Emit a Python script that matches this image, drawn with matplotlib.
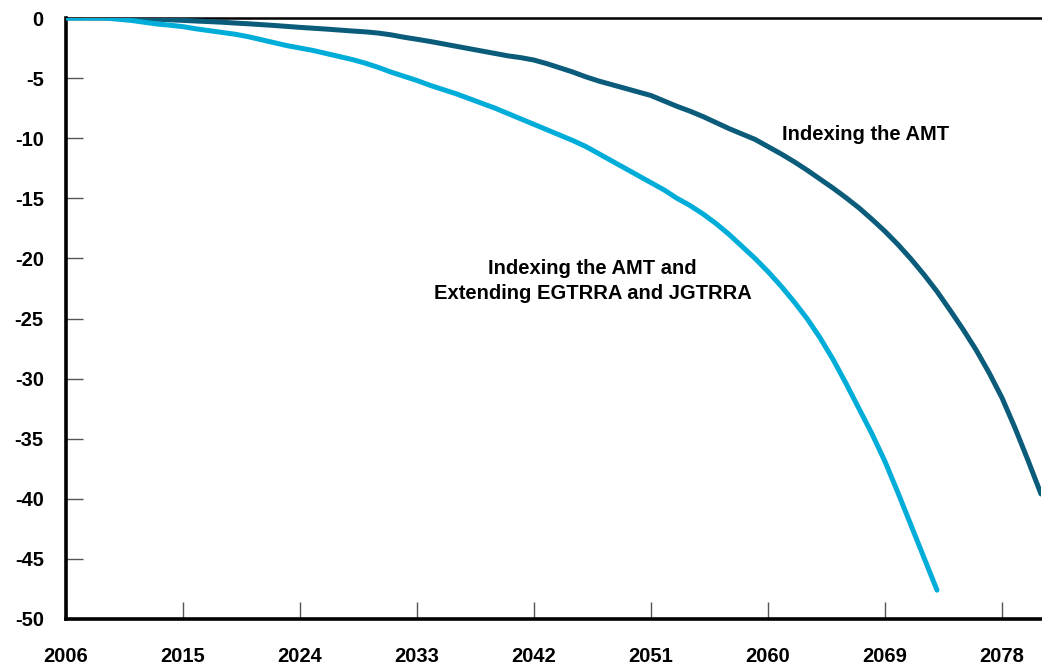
import numpy as np
import matplotlib.pyplot as plt

plt.rcParams['font.family'] = ['Liberation Sans', 'DejaVu Sans']

years = np.arange(2006, 2082)

# Indexing the AMT
amt_index = [
    0, 0, 0, 0, 0, -0.02, -0.05, -0.1, -0.15, -0.2,
    -0.25, -0.3, -0.35, -0.42, -0.48, -0.55, -0.62, -0.7, -0.78, -0.85,
    -0.92, -1.0, -1.08, -1.15, -1.25, -1.4, -1.6, -1.77, -1.95, -2.15,
    -2.35, -2.55, -2.75, -2.95, -3.15, -3.3, -3.5, -3.8, -4.15, -4.5,
    -4.9, -5.25, -5.55, -5.85, -6.15, -6.45, -6.9, -7.35, -7.75, -8.2,
    -8.7, -9.2, -9.65, -10.1, -10.7, -11.3, -11.95, -12.65, -13.4, -14.15,
    -14.95, -15.8, -16.75, -17.75, -18.85, -20.05, -21.35, -22.75, -24.3, -25.9,
    -27.6, -29.5, -31.6, -34.1, -36.8, -39.6,
]

# Indexing the AMT and extending EGTRRA and JGTRRA (ends 2073)
amt_ext = [
    0, 0, 0, 0, -0.1, -0.2, -0.35, -0.5, -0.6, -0.72,
    -0.9, -1.05, -1.2, -1.35, -1.55, -1.8, -2.05, -2.3, -2.5, -2.7,
    -2.95, -3.2, -3.45, -3.75, -4.1, -4.5, -4.85, -5.2, -5.6, -5.95,
    -6.3, -6.7, -7.1, -7.5, -7.95, -8.4, -8.85, -9.3, -9.75, -10.2,
    -10.7, -11.3, -11.9, -12.5, -13.1, -13.7, -14.3, -15.0, -15.6, -16.3,
    -17.1, -18.0, -19.0, -20.0, -21.1, -22.3, -23.6, -25.0, -26.6, -28.4,
    -30.4, -32.5, -34.6, -36.9, -39.5, -42.2, -44.9, -47.6,
]

xticks = np.arange(2006, 2080, 9)
yticks = np.arange(0, -51, -5)

fig = plt.figure(figsize=(10.42, 6.66), dpi=100)
ax = fig.add_axes([66 / 1042, 47 / 666, 975 / 1042, 601 / 666])

ax.plot(years, amt_index, color='#0b5c7b', lw=3.6, solid_capstyle='round', zorder=3)
ax.plot(years[:len(amt_ext)], amt_ext, color='#00acd8', lw=3.6, solid_capstyle='round', zorder=4)

ax.set_xlim(2006, 2081)
ax.set_ylim(-50, 0)
ax.set_xticks(xticks)
ax.set_yticks(yticks)
ax.set_yticklabels([str(v) for v in yticks])

for s in ['left', 'bottom']:
    ax.spines[s].set_linewidth(2.6)
ax.spines['top'].set_linewidth(1.8)
ax.spines['right'].set_visible(False)
for s in ax.spines.values():
    s.set_zorder(2)

ax.tick_params(axis='both', direction='in', length=12, width=1, color='#555555',
               labelsize=14.5)
ax.tick_params(axis='x', pad=20)
ax.tick_params(axis='y', pad=16)
for lab in ax.get_xticklabels() + ax.get_yticklabels():
    lab.set_fontweight('bold')

ax.text(2067.5, -9.7, 'Indexing the AMT', fontsize=14.5, fontweight='bold',
        ha='center', va='center')
ax.text(2046.5, -21.9, 'Indexing the AMT and\nExtending EGTRRA and JGTRRA',
        fontsize=14.5, fontweight='bold', ha='center', va='center', linespacing=1.4)

fig.savefig('out.png', dpi=100)
